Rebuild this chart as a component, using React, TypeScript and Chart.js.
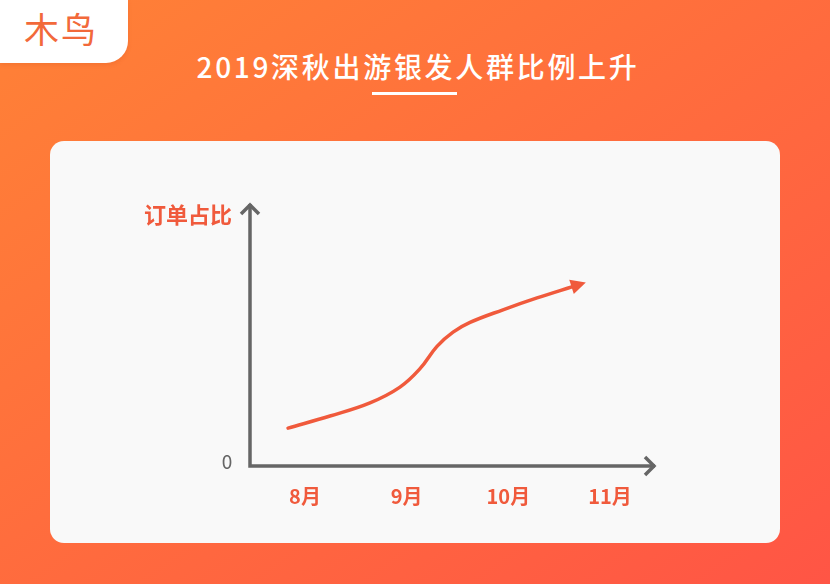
import React, { useEffect, useRef } from "react";
import { Chart, registerables } from "chart.js";

Chart.register(...registerables);

const TITLE = "2019深秋出游银发人群比例上升";
const LOGO = "木鸟";
const Y_LABEL = "订单占比";
const Y_ZERO = "0";
const MONTH_TICKS = [8, 9, 10, 11];
const MONTH_LABELS = ["8月", "9月", "10月", "11月"];
// curve samples: month position (x) and order share (arbitrary %, y)
const CURVE_X = [7.833, 8.246, 8.639, 8.934, 9.131, 9.298, 9.456, 9.623, 9.947, 10.282, 10.64];
const CURVE_Y = [14.4, 19.0, 24.0, 30.0, 37.0, 45.5, 50.9, 54.6, 59.4, 63.9, 68.3];
const X_MIN = 7.459;
const X_MAX = 11.452;
const Y_MIN = 0;
const Y_MAX = 100;

const RED = "#F05A3C";
const AXIS = "#666666";
const FONT = '"Noto Sans CJK SC", "Noto Sans", sans-serif';

const axesPlugin = {
  id: "customAxes",
  beforeDatasetsDraw(chart: any) {
    const { ctx } = chart;
    const xs = chart.scales.x;
    const ys = chart.scales.y;
    const x0 = xs.getPixelForValue(X_MIN);
    const x1 = xs.getPixelForValue(X_MAX);
    const yb = ys.getPixelForValue(Y_MIN);
    const yt = ys.getPixelForValue(Y_MAX);
    ctx.save();
    ctx.strokeStyle = AXIS;
    ctx.lineWidth = 3.5;
    ctx.lineJoin = "miter";
    ctx.lineCap = "butt";
    ctx.beginPath();
    ctx.moveTo(x0, yt + 1);
    ctx.lineTo(x0, yb);
    ctx.lineTo(x1 - 1, yb);
    ctx.stroke();
    // arrow chevrons
    ctx.beginPath();
    ctx.moveTo(x0 - 9, yt + 11);
    ctx.lineTo(x0, yt + 2);
    ctx.lineTo(x0 + 9, yt + 11);
    ctx.stroke();
    ctx.beginPath();
    ctx.moveTo(x1 - 11, yb - 9);
    ctx.lineTo(x1 - 2, yb);
    ctx.lineTo(x1 - 11, yb + 9);
    ctx.stroke();

    // labels
    ctx.fillStyle = RED;
    ctx.font = `bold 20px ${FONT}`;
    ctx.textAlign = "center";
    ctx.textBaseline = "middle";
    MONTH_TICKS.forEach((m, i) => {
      ctx.fillText(MONTH_LABELS[i], xs.getPixelForValue(m), yb + 30);
    });
    ctx.textAlign = "right";
    ctx.font = `bold 22px ${FONT}`;
    ctx.fillText(Y_LABEL, x0 - 18, yt + 12);
    ctx.fillStyle = AXIS;
    ctx.font = `19px ${FONT}`;
    ctx.textAlign = "center";
    ctx.fillText(Y_ZERO, x0 - 23, yb - 4);
    ctx.restore();
  },
  afterDatasetsDraw(chart: any) {
    const meta = chart.getDatasetMeta(0);
    const pts = meta.data;
    if (pts.length < 2) return;
    const a = pts[pts.length - 2];
    const b = pts[pts.length - 1];
    const dx = b.x - a.x;
    const dy = b.y - a.y;
    const len = Math.hypot(dx, dy) || 1;
    const ux = dx / len;
    const uy = dy / len;
    const px = -uy;
    const py = ux;
    const { ctx } = chart;
    ctx.save();
    ctx.fillStyle = RED;
    ctx.beginPath();
    ctx.moveTo(b.x + ux * 13, b.y + uy * 13);
    ctx.lineTo(b.x - ux * 2 + px * 7.5, b.y - uy * 2 + py * 7.5);
    ctx.lineTo(b.x - ux * 2 - px * 7.5, b.y - uy * 2 - py * 7.5);
    ctx.closePath();
    ctx.fill();
    ctx.restore();
  },
};

export default function App() {
  const canvasRef = useRef<HTMLCanvasElement | null>(null);

  useEffect(() => {
    if (!canvasRef.current) return;
    const chart = new Chart(canvasRef.current, {
      type: "line",
      data: {
        datasets: [
          {
            data: CURVE_X.map((x, i) => ({ x, y: CURVE_Y[i] })),
            borderColor: RED,
            borderWidth: 3.5,
            pointRadius: 0,
            tension: 0.4,
            fill: false,
            borderCapStyle: "round",
          },
        ],
      },
      options: {
        responsive: false,
        animation: false,
        devicePixelRatio: 1,
        layout: { padding: { left: 250, right: 830 - 656, top: 203, bottom: 584 - 466 } },
        plugins: { legend: { display: false }, tooltip: { enabled: false } },
        scales: {
          x: { type: "linear", min: X_MIN, max: X_MAX, display: false },
          y: { type: "linear", min: Y_MIN, max: Y_MAX, display: false },
        },
      },
      plugins: [axesPlugin],
    } as any);
    return () => chart.destroy();
  }, []);

  return (
    <div
      style={{
        position: "fixed",
        left: 0,
        top: 0,
        width: 830,
        height: 584,
        overflow: "hidden",
        background: "linear-gradient(to bottom right, #FF8236, #FF5545)",
        fontFamily: FONT,
      }}
    >
      <div
        style={{
          position: "absolute",
          left: 0,
          top: 0,
          width: 128,
          height: 63,
          background: "#FFFFFF",
          borderBottomRightRadius: 22,
          boxShadow: "0 2px 4px rgba(180,60,20,0.15)",
        }}
      >
        <div
          style={{
            position: "absolute",
            left: 0,
            width: 122,
            top: 6,
            textAlign: "center",
            fontSize: 35,
            lineHeight: "44px",
            color: "#F2693A",
            fontWeight: 400,
            letterSpacing: 2,
          }}
        >
          {LOGO}
        </div>
      </div>
      <div
        style={{
          position: "absolute",
          left: 0,
          width: 830,
          top: 46,
          textAlign: "center",
          color: "#FFFFFF",
          fontSize: 28,
          lineHeight: "40px",
          letterSpacing: 2.7,
          fontWeight: 500,
          paddingLeft: 3,
        }}
      >
        {TITLE}
      </div>
      <div
        style={{
          position: "absolute",
          left: 372,
          top: 92,
          width: 85,
          height: 3,
          background: "#FFFFFF",
        }}
      />
      <div
        style={{
          position: "absolute",
          left: 50,
          top: 141,
          width: 730,
          height: 402,
          background: "#F9F9F9",
          borderRadius: 14,
        }}
      />
      <canvas
        ref={canvasRef}
        width={830}
        height={584}
        style={{ position: "absolute", left: 0, top: 0, width: 830, height: 584 }}
      />
    </div>
  );
}
